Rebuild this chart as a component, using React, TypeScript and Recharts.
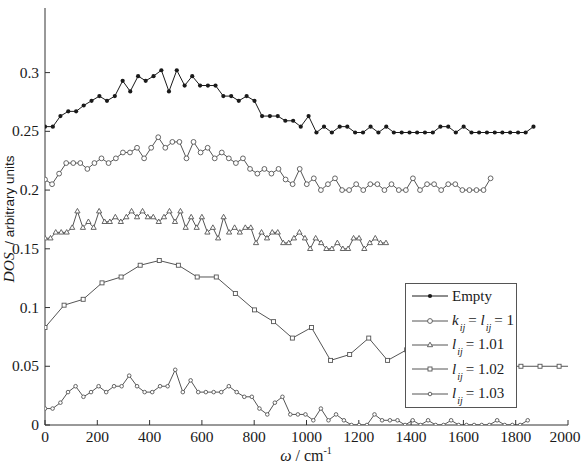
import { LineChart, Line, XAxis, YAxis, Legend } from "recharts";

// frequency grids (cm^-1)
const omegaEmpty = [
  0, 30, 59, 89, 119, 148, 178, 208, 237, 267, 297, 326, 356, 385, 415, 445,
  474, 504, 534, 563, 593, 623, 652, 682, 712, 741, 771, 801, 830, 860, 890, 919,
  949, 978, 1008, 1038, 1067, 1097, 1127, 1156, 1186, 1216, 1245, 1275, 1305, 1334, 1364, 1394,
  1423, 1453, 1483, 1512, 1542, 1571, 1601, 1631, 1660, 1690, 1720, 1749, 1779, 1809, 1838, 1868,
];
const dosEmpty = [
  0.254, 0.254, 0.263, 0.267, 0.267, 0.272, 0.276, 0.28, 0.276, 0.28,
  0.293, 0.284, 0.297, 0.293, 0.297, 0.302, 0.284, 0.302, 0.289, 0.297,
  0.289, 0.289, 0.289, 0.28, 0.28, 0.276, 0.28, 0.276, 0.263, 0.263,
  0.263, 0.259, 0.259, 0.254, 0.263, 0.249, 0.254, 0.249, 0.254, 0.254,
  0.249, 0.249, 0.254, 0.249, 0.254, 0.249, 0.249, 0.249, 0.249, 0.249,
  0.249, 0.254, 0.254, 0.249, 0.254, 0.249, 0.249, 0.249, 0.249, 0.249,
  0.249, 0.249, 0.249, 0.254,
];

const omegaK1 = [
  0, 27, 54, 81, 108, 135, 162, 189, 216, 243, 271, 298, 325, 352, 379, 406,
  433, 460, 487, 514, 541, 568, 595, 622, 649, 676, 703, 730, 757, 784, 812, 839,
  866, 893, 920, 947, 974, 1001, 1028, 1055, 1082, 1109, 1136, 1163, 1190, 1217, 1244, 1271,
  1298, 1325, 1353, 1380, 1407, 1434, 1461, 1488, 1515, 1542, 1569, 1596, 1623, 1650, 1677, 1704,
];
const dosK1 = [
  0.209, 0.205, 0.214, 0.223, 0.223, 0.223, 0.218, 0.223, 0.227, 0.223,
  0.227, 0.232, 0.232, 0.236, 0.227, 0.236, 0.245, 0.236, 0.241, 0.241,
  0.227, 0.241, 0.232, 0.236, 0.227, 0.232, 0.227, 0.223, 0.227, 0.218,
  0.214, 0.218, 0.214, 0.218, 0.209, 0.205, 0.218, 0.205, 0.21, 0.2,
  0.205, 0.21, 0.2, 0.2, 0.205, 0.2, 0.205, 0.205, 0.2, 0.205,
  0.2, 0.2, 0.21, 0.2, 0.205, 0.205, 0.2, 0.205, 0.205, 0.2,
  0.2, 0.2, 0.2, 0.21,
];

const omegaL101 = [
  0, 21, 41, 62, 83, 104, 124, 145, 166, 186, 207, 228, 248, 269, 290, 311,
  331, 352, 373, 393, 414, 435, 455, 476, 497, 518, 538, 559, 580, 600, 621, 642,
  662, 683, 704, 725, 745, 766, 787, 807, 828, 849, 869, 890, 911, 932, 952, 973,
  994, 1014, 1035, 1056, 1076, 1097, 1118, 1139, 1159, 1180, 1201, 1221, 1242, 1263, 1283, 1304,
];
const dosL101 = [
  0.159, 0.159, 0.164, 0.164, 0.164, 0.168, 0.182, 0.168, 0.173, 0.168,
  0.182, 0.173, 0.173, 0.177, 0.173, 0.177, 0.182, 0.177, 0.182, 0.177,
  0.177, 0.173, 0.177, 0.182, 0.173, 0.182, 0.168, 0.177, 0.168, 0.177,
  0.164, 0.168, 0.159, 0.177, 0.164, 0.168, 0.164, 0.168, 0.168, 0.155,
  0.164, 0.159, 0.164, 0.164, 0.155, 0.155, 0.159, 0.164, 0.159, 0.15,
  0.159, 0.155, 0.15, 0.15, 0.155, 0.15, 0.15, 0.159, 0.159, 0.15,
  0.155, 0.159, 0.155, 0.155,
];

const omegaL102 = [
  0, 73, 146, 218, 291, 364, 437, 510, 582, 655, 728, 801, 874, 946, 1019,
  1092, 1165, 1238, 1310, 1383, 1456, 1529, 1602, 1674, 1747, 1820, 1893, 1966, 2038,
];
const dosL102 = [
  0.083, 0.102, 0.107, 0.121, 0.126, 0.136, 0.14, 0.136, 0.126, 0.126, 0.112, 0.098, 0.088, 0.074, 0.083,
  0.055, 0.06, 0.074, 0.055, 0.064, 0.058, 0.053, 0.05, 0.05, 0.05, 0.05, 0.05, 0.05, 0.05,
];

const omegaL103 = [
  0, 29, 59, 88, 117, 147, 176, 205, 234, 264, 293, 322, 352, 381, 410, 440,
  469, 498, 527, 557, 586, 615, 645, 674, 703, 733, 762, 791, 820, 850, 879, 908,
  938, 967, 996, 1026, 1055, 1084, 1113, 1143, 1172, 1201, 1231, 1260, 1289, 1319, 1348, 1377,
  1406, 1436, 1465, 1494, 1524, 1553, 1582, 1612, 1641, 1670, 1699, 1729, 1758, 1787, 1817, 1846,
];
const dosL103 = [
  0.014, 0.014, 0.019, 0.028, 0.033, 0.024, 0.028, 0.033, 0.028, 0.033,
  0.033, 0.042, 0.033, 0.028, 0.028, 0.033, 0.033, 0.047, 0.028, 0.038,
  0.028, 0.028, 0.028, 0.028, 0.033, 0.028, 0.024, 0.024, 0.014, 0.009,
  0.019, 0.024, 0.009, 0.009, 0.009, 0.004, 0.014, 0.004, 0.009, 0.004,
  0, 0, 0, 0.009, 0.004, 0.004, 0.004, 0, 0.004, 0,
  0.004, 0, 0, 0.004, 0, 0, 0, 0, 0, 0.004,
  0, 0, 0, 0.004,
];

const xTicks = [0, 200, 400, 600, 800, 1000, 1200, 1400, 1600, 1800, 2000];
const yTicks = [0, 0.05, 0.1, 0.15, 0.2, 0.25, 0.3];

const serif = '"Liberation Serif", "Times New Roman", serif';
const sans = '"Liberation Sans", Arial, sans-serif';
const ink = "#1a1a1a";
const grey = "#555";

const toPoints = (xs: number[], ys: number[]) => xs.map((x, i) => ({ x, y: ys[i] }));

type MarkerKind = "dot" | "circle" | "triangle" | "square" | "small";

function marker(kind: MarkerKind, cx: number, cy: number, key?: number) {
  if (kind === "dot") return <circle key={key} cx={cx} cy={cy} r={2.1} fill={ink} stroke="none" />;
  if (kind === "circle")
    return <circle key={key} cx={cx} cy={cy} r={2.4} fill="#fff" stroke={grey} strokeWidth={0.9} />;
  if (kind === "triangle")
    return (
      <polygon
        key={key}
        points={`${cx},${cy - 2.8} ${cx - 2.6},${cy + 1.7} ${cx + 2.6},${cy + 1.7}`}
        fill="#fff"
        stroke={grey}
        strokeWidth={0.9}
      />
    );
  if (kind === "square")
    return <rect key={key} x={cx - 2} y={cy - 2} width={4} height={4} fill="#fff" stroke={grey} strokeWidth={0.9} />;
  return <circle key={key} cx={cx} cy={cy} r={1.8} fill="#fff" stroke={grey} strokeWidth={0.9} />;
}

const dotOf = (kind: MarkerKind) => (props: any) => {
  const { cx, cy, index } = props;
  if (cx == null || cy == null) return <g key={index} />;
  return marker(kind, cx, cy, index);
};

const series = [
  { name: "empty", data: toPoints(omegaEmpty, dosEmpty), kind: "dot" as MarkerKind, color: ink },
  { name: "k1", data: toPoints(omegaK1, dosK1), kind: "circle" as MarkerKind, color: grey },
  { name: "l101", data: toPoints(omegaL101, dosL101), kind: "triangle" as MarkerKind, color: grey },
  { name: "l102", data: toPoints(omegaL102, dosL102), kind: "square" as MarkerKind, color: grey },
  { name: "l103", data: toPoints(omegaL103, dosL103), kind: "small" as MarkerKind, color: grey },
];

const Sub = ({ children }: { children: string }) => (
  <span style={{ fontSize: 10, fontStyle: "italic", position: "relative", top: 6, marginLeft: 1, marginRight: 3 }}>
    {children}
  </span>
);

const legendLabels = [
  <span>Empty</span>,
  <span>
    <i>k</i>
    <Sub>ij</Sub>= <i>l</i>
    <Sub>ij</Sub>= 1
  </span>,
  <span>
    <i>l</i>
    <Sub>ij</Sub>= 1.01
  </span>,
  <span>
    <i>l</i>
    <Sub>ij</Sub>= 1.02
  </span>,
  <span>
    <i>l</i>
    <Sub>ij</Sub>= 1.03
  </span>,
];

function LegendBox() {
  return (
    <div
      style={{
        width: 112,
        height: 125,
        boxSizing: "border-box",
        border: "1px solid #555",
        background: "#fff",
        fontFamily: serif,
        fontSize: 15,
        color: ink,
      }}
    >
      {series.map((s, i) => (
        <div key={s.name} style={{ display: "flex", alignItems: "center", height: 24.4, whiteSpace: "nowrap" }}>
          <svg width={46} height={12} style={{ flex: "none" }}>
            <line x1={6} y1={6} x2={42} y2={6} stroke={s.color} strokeWidth={1} />
            {marker(s.kind, 24, 6)}
          </svg>
          {legendLabels[i]}
        </div>
      ))}
    </div>
  );
}

const YTick = (props: any) => {
  const { x, y, payload } = props;
  return (
    <text x={x} y={y} dy={5} textAnchor="end" fill={ink} fontFamily={serif} fontSize={15.5}>
      {payload.value}
    </text>
  );
};

const XTick = (props: any) => {
  const { x, y, payload } = props;
  return (
    <text x={x} y={y} dy={11} textAnchor="middle" fill={ink} fontFamily={serif} fontSize={15.5}>
      {payload.value}
    </text>
  );
};

export default function App() {
  return (
    <div style={{ position: "absolute", left: 0, top: 0, width: 581, height: 468, background: "#fff" }}>
      <LineChart width={581} height={468} margin={{ top: 8, right: 13, bottom: 0, left: 0 }}>
        <XAxis
          dataKey="x"
          type="number"
          domain={[0, 2000]}
          ticks={xTicks}
          allowDataOverflow
          height={43}
          tickSize={-5}
          tickMargin={11}
          stroke="#333"
          tick={<XTick />}
        />
        <XAxis
          xAxisId="top"
          orientation="top"
          dataKey="x"
          type="number"
          domain={[0, 2000]}
          ticks={xTicks}
          height={0}
          tickSize={-5}
          tickFormatter={() => ""}
          stroke="#333"
        />
        <YAxis
          type="number"
          domain={[0, 0.355]}
          ticks={yTicks}
          allowDataOverflow
          width={45}
          tickSize={-5}
          tickMargin={11}
          stroke="#333"
          tick={<YTick />}
        />
        <YAxis
          yAxisId="right"
          orientation="right"
          type="number"
          domain={[0, 0.355]}
          ticks={yTicks}
          width={0}
          tickSize={-5}
          tickFormatter={() => ""}
          stroke="#333"
        />
        {series.map((s) => (
          <Line
            key={s.name}
            data={s.data}
            dataKey="y"
            type="linear"
            stroke={s.color}
            strokeWidth={1}
            dot={dotOf(s.kind)}
            activeDot={false}
            isAnimationActive={false}
          />
        ))}
        <Legend
          layout="vertical"
          align="center"
          verticalAlign="middle"
          content={() => <LegendBox />}
          wrapperStyle={{ left: 405, top: 283, width: 112, height: 125 }}
        />
      </LineChart>
      <div
        style={{
          position: "absolute",
          left: 9,
          top: 219,
          transform: "translate(-50%, -50%) rotate(-90deg)",
          whiteSpace: "pre",
          color: ink,
        }}
      >
        <span style={{ fontFamily: serif, fontStyle: "italic", fontSize: 15.5 }}>DOS</span>
        <span style={{ fontFamily: sans, fontSize: 13.5 }}>{"  / arbitrary units"}</span>
      </div>
      <div
        style={{
          position: "absolute",
          left: 306,
          top: 455,
          transform: "translate(-50%, -50%)",
          whiteSpace: "nowrap",
          fontFamily: serif,
          fontSize: 16,
          color: ink,
        }}
      >
        <i>ω</i> / cm<sup style={{ fontSize: 10 }}>-1</sup>
      </div>
    </div>
  );
}
